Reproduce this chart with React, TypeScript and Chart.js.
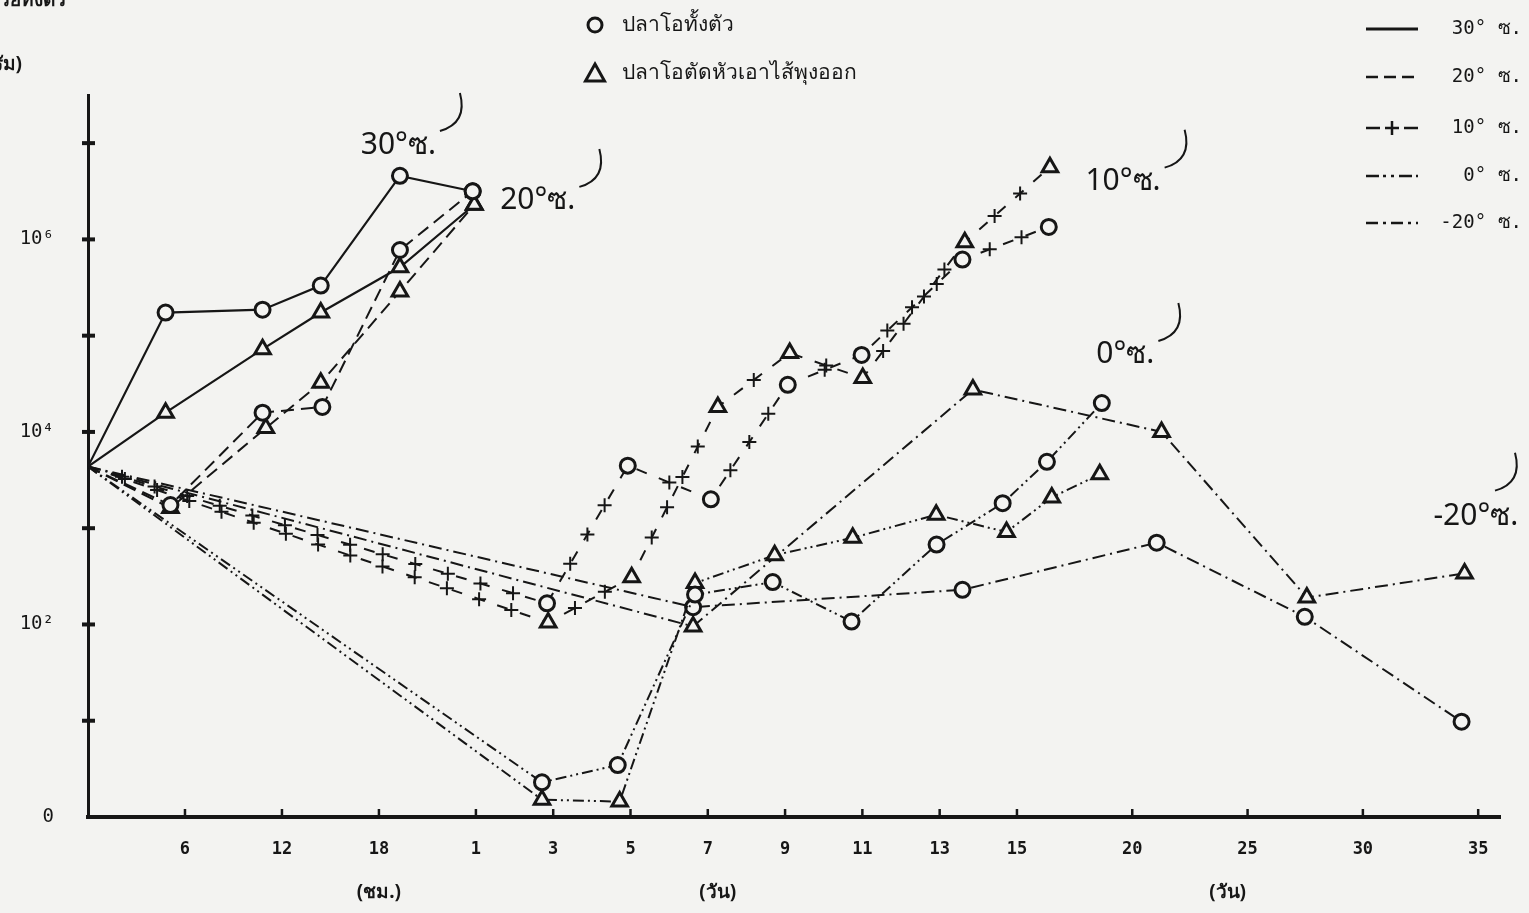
import React, { useEffect, useRef } from "react";
import { Chart, registerables } from "chart.js";

Chart.register(...registerables);

// ---------- axis definition (broken time axis: hours, then days) ----------
const X_TICK_HOURS = [6, 12, 18];
const X_TICK_DAYS = [1, 3, 5, 7, 9, 11, 13, 15, 20, 25, 30, 35];
const X_TICK_LABELS = ["6", "12", "18", "1", "3", "5", "7", "9", "11", "13", "15", "20", "25", "30", "35"];
const Y_TICKS = [0, 1, 2, 3, 4, 5, 6, 7];
const Y_TICK_LABELS: Record<number, string> = { 0: "0", 2: "10²", 4: "10⁴", 6: "10⁶" };
const X_UNIT_LABELS = ["(ชม.)", "(วัน)", "(วัน)"];

// scale segments (axis units): 6 h = 1 unit; 2 days = 0.797 unit (day 1-15); 5 days = 1.189 unit (day 15-35)
const HOURS_PER_UNIT = 6;
const SEG_DAYS_2 = 0.797;
const SEG_DAYS_5 = 1.189;
const X_MAX = 14.56;
const Y_MAX = 7.5;

const axisFromHours = (h: number) => h / HOURS_PER_UNIT;
const axisFromDays = (d: number) => {
  if (d <= 1) return (d * 24) / HOURS_PER_UNIT;
  if (d <= 15) return 4 + ((d - 1) / 2) * SEG_DAYS_2;
  return 4 + 7 * SEG_DAYS_2 + ((d - 15) / 5) * SEG_DAYS_5;
};

// ---------- data: y = log10 (bacteria count) ----------
// 30 °C (hours)
const t30Whole = [0, 4.8, 10.8, 14.4, 19.3, 23.8];
const y30Whole = [3.64, 5.24, 5.27, 5.52, 6.66, 6.5];
const t30Gutted = [0, 4.8, 10.8, 14.4, 19.3, 23.9];
const y30Gutted = [3.64, 4.2, 4.86, 5.24, 5.71, 6.36];
// 20 °C (hours)
const t20Whole = [0, 5.1, 10.8, 14.5, 19.3, 23.8];
const y20Whole = [3.64, 3.24, 4.2, 4.26, 5.89, 6.5];
const t20Gutted = [0, 5.1, 11.0, 14.4, 19.3, 23.9];
const y20Gutted = [3.64, 3.21, 4.04, 4.51, 5.46, 6.36];
// 10 °C (days)
const t10Whole = [0, 2.84, 4.93, 7.08, 9.07, 10.98, 13.59, 16.38];
const y10Whole = [3.64, 2.22, 3.65, 3.3, 4.49, 4.8, 5.79, 6.13];
const t10Gutted = [0, 2.87, 5.03, 7.26, 9.12, 11.01, 13.65, 16.43];
const y10Gutted = [3.64, 2.02, 2.49, 4.26, 4.82, 4.56, 5.97, 6.75];
// 0 °C (days)
const t0Whole = [0, 2.71, 4.67, 6.67, 8.68, 10.72, 12.92, 14.63, 16.3, 18.68];
const y0Whole = [3.64, 0.36, 0.54, 2.31, 2.44, 2.03, 2.83, 3.26, 3.69, 4.3];
const t0Gutted = [0, 2.71, 4.72, 6.67, 8.73, 10.75, 12.91, 14.73, 16.51, 18.59];
const y0Gutted = [3.64, 0.18, 0.16, 2.43, 2.72, 2.9, 3.14, 2.96, 3.32, 3.56];
// -20 °C (days)
const tM20Whole = [0, 6.62, 13.59, 21.06, 27.48, 34.28];
const yM20Whole = [3.64, 2.18, 2.36, 2.85, 2.08, 0.99];
const tM20Gutted = [0, 6.62, 13.86, 21.27, 27.57, 34.41];
const yM20Gutted = [3.64, 1.98, 4.44, 4.0, 2.28, 2.53];

// on-plot temperature annotations (time unit, time, log value)
const ANNOTATIONS = [
  { text: "30°ซ.", unit: "h", t: 19.2, y: 6.98 },
  { text: "20°ซ.", unit: "d", t: 2.6, y: 6.4 },
  { text: "10°ซ.", unit: "d", t: 19.6, y: 6.6 },
  { text: "0°ซ.", unit: "d", t: 19.7, y: 4.8 },
  { text: "-20°ซ.", unit: "d", t: 34.9, y: 3.12 },
];

const LEGEND_TEMPS = ["30° ซ.", "20° ซ.", "10° ซ.", "0° ซ.", "-20° ซ."];
const LEGEND_FISH = ["ปลาโอทั้งตัว", "ปลาโอตัดหัวเอาไส้พุงออก"];
const Y_TITLE = ["จำนวนแบคทีเรียทั้งตัว", "(โคโลนี/กรัม)"];

// ---------- styles ----------
const INK = "#161616";
const PAPER = "#f3f3f1";
const MONO = "'DejaVu Sans Mono', 'Liberation Mono', monospace";
const THAI = "'Noto Sans', 'DejaVu Sans', sans-serif";

const DASH: Record<string, number[]> = {
  "30": [],
  "20": [13, 7],
  "10": [11, 13],
  "0": [11, 4, 2, 4, 2, 4],
  "-20": [13, 5, 2, 5],
};

type Series = { temp: string; fish: "whole" | "gutted"; unit: "h" | "d"; t: number[]; y: number[] };
const SERIES: Series[] = [
  { temp: "30", fish: "whole", unit: "h", t: t30Whole, y: y30Whole },
  { temp: "30", fish: "gutted", unit: "h", t: t30Gutted, y: y30Gutted },
  { temp: "20", fish: "whole", unit: "h", t: t20Whole, y: y20Whole },
  { temp: "20", fish: "gutted", unit: "h", t: t20Gutted, y: y20Gutted },
  { temp: "10", fish: "whole", unit: "d", t: t10Whole, y: y10Whole },
  { temp: "10", fish: "gutted", unit: "d", t: t10Gutted, y: y10Gutted },
  { temp: "0", fish: "whole", unit: "d", t: t0Whole, y: y0Whole },
  { temp: "0", fish: "gutted", unit: "d", t: t0Gutted, y: y0Gutted },
  { temp: "-20", fish: "whole", unit: "d", t: tM20Whole, y: yM20Whole },
  { temp: "-20", fish: "gutted", unit: "d", t: tM20Gutted, y: yM20Gutted },
];

const toAxis = (unit: string, t: number) => (unit === "h" ? axisFromHours(t) : axisFromDays(t));

function drawPlus(ctx: CanvasRenderingContext2D, x: number, y: number, s: number) {
  ctx.beginPath();
  ctx.moveTo(x - s, y);
  ctx.lineTo(x + s, y);
  ctx.moveTo(x, y - s);
  ctx.lineTo(x, y + s);
  ctx.stroke();
}

function drawCircleMarker(ctx: CanvasRenderingContext2D, x: number, y: number, r: number) {
  ctx.beginPath();
  ctx.arc(x, y, r, 0, Math.PI * 2);
  ctx.fillStyle = PAPER;
  ctx.fill();
  ctx.stroke();
}

function drawTriangleMarker(ctx: CanvasRenderingContext2D, x: number, y: number, r: number) {
  ctx.beginPath();
  ctx.moveTo(x, y - r);
  ctx.lineTo(x + r * 0.95, y + r * 0.7);
  ctx.lineTo(x - r * 0.95, y + r * 0.7);
  ctx.closePath();
  ctx.fillStyle = PAPER;
  ctx.fill();
  ctx.stroke();
}

const decorPlugin = {
  id: "decor",
  beforeDraw(chart: any) {
    const { ctx, width, height } = chart;
    ctx.save();
    ctx.fillStyle = PAPER;
    ctx.fillRect(0, 0, width, height);
    ctx.restore();
  },
  afterDatasetsDraw(chart: any) {
    const ctx: CanvasRenderingContext2D = chart.ctx;
    ctx.save();
    ctx.strokeStyle = INK;
    ctx.lineWidth = 2;
    ctx.setLineDash([]);
    // "+" symbols along the 10 °C lines
    chart.data.datasets.forEach((ds: any, i: number) => {
      if (ds.tempKey !== "10") return;
      const pts = chart.getDatasetMeta(i).data;
      for (let k = 0; k < pts.length - 1; k++) {
        const a = pts[k], b = pts[k + 1];
        const dx = b.x - a.x, dy = b.y - a.y;
        const len = Math.hypot(dx, dy);
        const step = 34;
        const n = Math.floor((len - 24) / step);
        if (n < 1) continue;
        const start = (len - (n - 1) * step) / 2;
        for (let j = 0; j < n; j++) {
          const f = (start + j * step) / len;
          drawPlus(ctx, a.x + dx * f, a.y + dy * f, 7);
        }
      }
    });
    ctx.restore();
  },
  afterDraw(chart: any) {
    const ctx: CanvasRenderingContext2D = chart.ctx;
    const xs = chart.scales.x;
    const ys = chart.scales.y;
    const area = chart.chartArea;
    ctx.save();
    ctx.strokeStyle = INK;
    ctx.fillStyle = INK;
    ctx.setLineDash([]);

    // inward tick marks on y axis
    ctx.lineWidth = 4;
    Y_TICKS.forEach((v) => {
      if (v === 0) return;
      const py = ys.getPixelForValue(v);
      ctx.beginPath();
      ctx.moveTo(area.left - 6, py);
      ctx.lineTo(area.left + 7, py);
      ctx.stroke();
    });
    // inward tick marks on x axis
    ctx.lineWidth = 2.5;
    xs.ticks.forEach((tk: any) => {
      const px = xs.getPixelForValue(tk.value);
      ctx.beginPath();
      ctx.moveTo(px, area.bottom);
      ctx.lineTo(px, area.bottom - 8);
      ctx.stroke();
    });

    // unit labels under the x axis
    ctx.font = `bold 19px ${THAI}`;
    ctx.textAlign = "center";
    ctx.textBaseline = "middle";
    const unitCenters = [
      (xs.getPixelForValue(axisFromHours(12)) + xs.getPixelForValue(axisFromDays(1))) / 2,
      xs.getPixelForValue(axisFromDays(7)) + 10,
      (xs.getPixelForValue(axisFromDays(20)) + xs.getPixelForValue(axisFromDays(30))) / 2 - 20,
    ];
    X_UNIT_LABELS.forEach((s, i) => ctx.fillText(s, unitCenters[i], 893));

    // y title, cut off at the page edge
    ctx.font = `bold 19px ${THAI}`;
    ctx.textAlign = "right";
    ctx.textBaseline = "alphabetic";
    ctx.fillText(Y_TITLE[0], 66, 6);
    ctx.fillText(Y_TITLE[1], 22, 70);

    // fish legend (top centre)
    ctx.lineWidth = 3;
    drawCircleMarker(ctx, 595, 25, 7);
    drawTriangleMarker(ctx, 595, 74, 10);
    ctx.fillStyle = INK;
    ctx.font = `21px ${THAI}`;
    ctx.textAlign = "left";
    ctx.textBaseline = "middle";
    ctx.fillText(LEGEND_FISH[0], 622, 25);
    ctx.fillText(LEGEND_FISH[1], 622, 73);

    // temperature legend (top right)
    const keys = ["30", "20", "10", "0", "-20"];
    const rowsY = [29, 77, 128, 176, 223];
    keys.forEach((k, i) => {
      const y = rowsY[i];
      ctx.lineWidth = k === "30" ? 3 : 2.5;
      ctx.setLineDash(k === "30" ? [] : k === "20" ? [12, 6] : k === "10" ? [14, 24] : k === "0" ? [13, 4, 3, 5, 3, 5] : [12, 5, 3, 5]);
      ctx.beginPath();
      ctx.moveTo(1366, y);
      ctx.lineTo(1418, y);
      ctx.stroke();
      ctx.setLineDash([]);
      if (k === "10") {
        ctx.lineWidth = 2.5;
        drawPlus(ctx, 1392, y, 7);
      }
      ctx.font = `19px ${MONO}`;
      ctx.textAlign = "right";
      ctx.fillStyle = INK;
      ctx.fillText(LEGEND_TEMPS[i], 1522, y);
    });

    // on-plot temperature annotations with their little hooks
    ctx.font = `30px ${THAI}`;
    ctx.textAlign = "left";
    ctx.textBaseline = "middle";
    ctx.lineWidth = 2;
    ANNOTATIONS.forEach((a) => {
      const px = xs.getPixelForValue(toAxis(a.unit, a.t));
      const py = ys.getPixelForValue(a.y);
      const w = ctx.measureText(a.text).width;
      const x0 = Math.min(px - w / 2, chart.width - 6 - w);
      ctx.fillText(a.text, x0, py);
      const ex = Math.min(x0 + w + 4, chart.width - 34);
      const top = ex < x0 + w ? py - 26 : py - 14;
      ctx.beginPath();
      ctx.moveTo(ex, top);
      ctx.quadraticCurveTo(ex + 28, top - 8, ex + 20, top - 38);
      ctx.stroke();
    });
    ctx.restore();
  },
};

export default function App() {
  const ref = useRef<HTMLCanvasElement | null>(null);

  useEffect(() => {
    document.body.style.margin = "0";
    const canvas = ref.current;
    if (!canvas) return;

    const datasets = SERIES.map((s) => ({
      label: `${s.temp} ${s.fish}`,
      tempKey: s.temp,
      data: s.t.map((t, i) => ({ x: toAxis(s.unit, t), y: s.y[i] })),
      borderColor: INK,
      borderWidth: s.temp === "30" ? 2.2 : 2,
      borderDash: DASH[s.temp],
      pointStyle: s.fish === "whole" ? "circle" : "triangle",
      pointRadius: (c: any) => (c.dataIndex === 0 ? 0 : s.fish === "whole" ? 7.5 : 9),
      pointBorderWidth: 3,
      pointBorderColor: INK,
      pointBackgroundColor: PAPER,
      tension: 0,
      fill: false,
    }));

    const xTickValues = [...X_TICK_HOURS.map(axisFromHours), ...X_TICK_DAYS.map(axisFromDays)];

    const chart = new Chart(canvas, {
      type: "line",
      data: { datasets: datasets as any },
      options: {
        animation: false,
        responsive: false,
        maintainAspectRatio: false,
        layout: { padding: { top: 95, right: 29, left: 0, bottom: 0 } },
        plugins: { legend: { display: false }, tooltip: { enabled: false } },
        scales: {
          x: {
            type: "linear",
            min: 0,
            max: X_MAX,
            grid: { display: false, drawTicks: false },
            border: { display: true, color: INK, width: 4 },
            afterBuildTicks: (scale: any) => {
              scale.ticks = xTickValues.map((v) => ({ value: v }));
            },
            afterFit: (scale: any) => {
              scale.height = 96;
            },
            ticks: {
              autoSkip: false,
              maxRotation: 0,
              padding: 22,
              color: INK,
              font: { family: MONO, size: 17, weight: "bold" },
              callback: (_v: any, i: number) => X_TICK_LABELS[i],
            },
          },
          y: {
            type: "linear",
            min: 0,
            max: Y_MAX,
            grid: { display: false, drawTicks: false },
            border: { display: true, color: INK, width: 3 },
            afterBuildTicks: (scale: any) => {
              scale.ticks = Y_TICKS.map((v) => ({ value: v }));
            },
            afterFit: (scale: any) => {
              scale.width = 88;
            },
            ticks: {
              autoSkip: false,
              padding: 34,
              color: INK,
              font: { family: MONO, size: 19 },
              callback: (v: any) => Y_TICK_LABELS[v as number] ?? "",
            },
          },
        },
      },
      plugins: [decorPlugin],
    });

    return () => chart.destroy();
  }, []);

  return (
    <div style={{ width: 1529, height: 913 }}>
      <canvas ref={ref} width={1529} height={913} style={{ display: "block" }} />
    </div>
  );
}
